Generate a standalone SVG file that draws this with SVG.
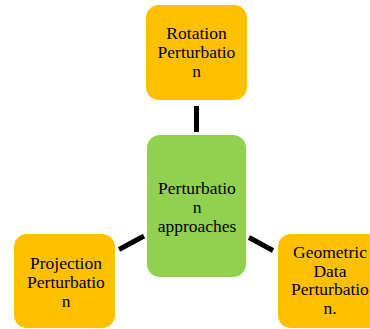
<svg xmlns="http://www.w3.org/2000/svg" width="370" height="329" viewBox="0 0 370 329">
<style>
.o{fill:#FFC000}
.g{fill:#92D050}
text{font-family:"Liberation Serif","Times New Roman",serif;font-size:17.5px;fill:#000;text-anchor:middle}
.c{stroke:#000;stroke-width:5;fill:none}
</style>
<rect width="370" height="329" fill="#fff"/>
<g id="connectors">
<line class="c" x1="196.5" y1="106" x2="196.5" y2="132"/>
<line class="c" x1="119" y1="249.5" x2="144" y2="236"/>
<line class="c" x1="249" y1="237.5" x2="273" y2="250.5"/>
</g>
<g id="rotation">
<rect class="o" x="146" y="5" width="101" height="95" rx="13"/>
<text x="196.5" y="39">Rotation</text>
<text x="196.5" y="57.5">Perturbatio</text>
<text x="196.5" y="77">n</text>
</g>
<g id="center">
<rect class="g" x="147" y="135" width="99" height="142" rx="13"/>
<text x="197" y="193.5">Perturbatio</text>
<text x="197" y="212.5">n</text>
<text x="197" y="231.5">approaches</text>
</g>
<g id="projection">
<rect class="o" x="14" y="234" width="101" height="94" rx="13"/>
<text x="66" y="269">Projection</text>
<text x="66" y="287.5">Perturbatio</text>
<text x="66" y="306.5">n</text>
</g>
<g id="geometric">
<rect class="o" x="278" y="234" width="102" height="94" rx="13"/>
<text x="330" y="258">Geometric</text>
<text x="330" y="276.5">Data</text>
<text x="330" y="295">Perturbatio</text>
<text x="330" y="314">n.</text>
</g>
</svg>
